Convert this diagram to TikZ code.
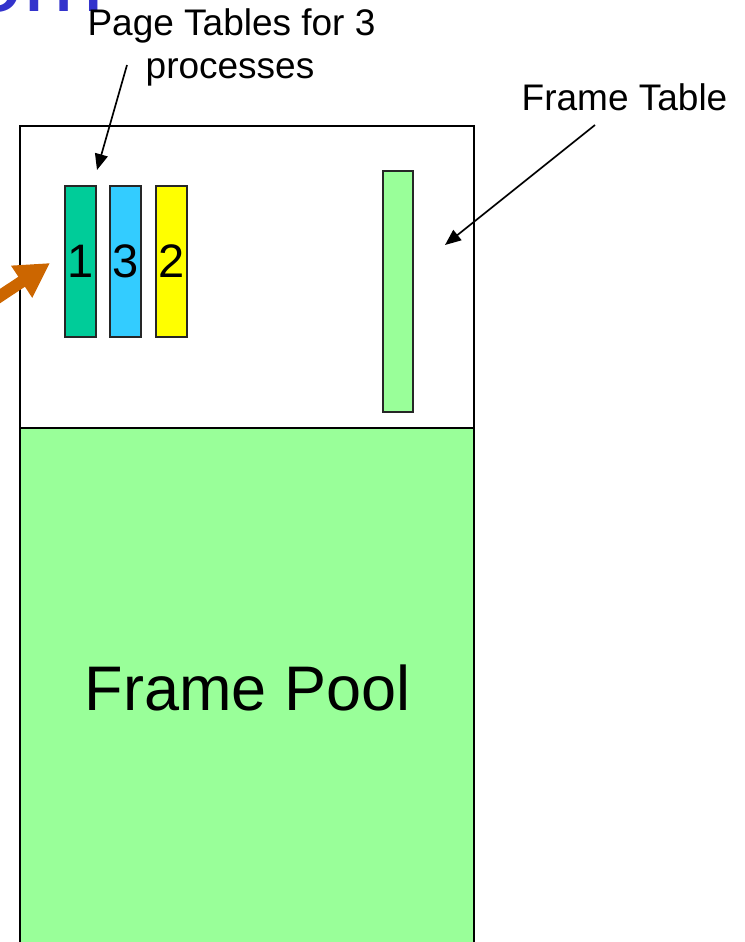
\documentclass[tikz,border=0pt]{standalone}
\usepackage{fontspec}
\setmainfont{Liberation Sans}
\usetikzlibrary{arrows.meta}
\definecolor{poolgreen}{HTML}{99FF99}
\definecolor{tealgreen}{HTML}{00CC99}
\definecolor{skyblue}{HTML}{33CCFF}
\definecolor{brightyellow}{HTML}{FFFF00}
\definecolor{arroworange}{HTML}{CC6600}
\definecolor{titleblue}{HTML}{3333CC}
\tikzset{
  ptbox/.style={draw=black!85, line width=1.2pt, minimum width=31pt, minimum height=151pt, inner sep=0pt, font=\fontsize{47}{50}\selectfont},
  membox/.style={draw=black, line width=2pt, inner sep=0pt},
  lbl/.style={inner sep=0pt, font=\fontsize{37}{42}\selectfont, align=center},
  blackarrow/.style={draw=black, line width=1.7pt, -{Triangle[length=16pt,width=13pt]}},
  orangearrow/.style={draw=arroworange, line width=12pt, -{Triangle[length=34pt,width=36pt]}}
}
\begin{document}
\begin{tikzpicture}[x=1pt,y=-1pt]
\useasboundingbox (0,0) rectangle (744,942);
% clipped title fragment
\node[anchor=base west, inner sep=0pt, text=titleblue, font=\fontsize{97}{100}\selectfont] (title) at (-31,12) {om};
% memory boxes
\node[membox, fill=white, minimum width=454pt, minimum height=302pt] (mem) at (247,277) {};
\node[membox, fill=poolgreen, minimum width=454pt, minimum height=516pt] (pool) at (247,686) {};
\node[anchor=base, inner sep=0pt, font=\fontsize{63}{70}\selectfont] (pooltext) at (247.5,710) {Frame Pool};
% page tables
\node[ptbox, fill=tealgreen] (pt1) at (80.5,261.5) {1};
\node[ptbox, fill=skyblue] (pt3) at (125.5,261.5) {3};
\node[ptbox, fill=brightyellow] (pt2) at (171.5,261.5) {2};
% frame table
\node[draw=black!85, line width=1.2pt, fill=poolgreen, minimum width=30pt, minimum height=241pt, inner sep=0pt] (ft) at (398,291.5) {};
% labels
\node[lbl, anchor=base] (ptlabel) at (231.5,36) {Page Tables for 3};
\node[lbl, anchor=base] (ptlabel2) at (230,78) {processes};
\node[lbl, anchor=base] (ftlabel) at (624.5,110) {Frame Table};
% arrows
\coordinate (pa) at (127,65);
\coordinate (pb) at (97,170);
\draw[blackarrow] (pa) -- (pb);
\coordinate (fa) at (595,125);
\coordinate (fb) at (445,245);
\draw[blackarrow] (fa) -- (fb);
\coordinate (oa) at (-12,304);
\coordinate (ob) at (50,263);
\draw[orangearrow] (oa) -- (ob);
\end{tikzpicture}
\end{document}
